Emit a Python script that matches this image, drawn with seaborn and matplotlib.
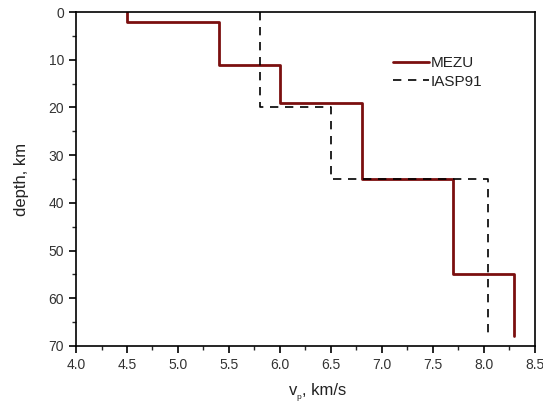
import matplotlib
matplotlib.use("Agg")
import matplotlib.pyplot as plt
from matplotlib.ticker import MultipleLocator
import seaborn as sns
import pandas as pd

# Layer models: top depth (km), bottom depth (km), Vp (km/s)
mezu_top = [0, 2, 11, 19, 35, 55]
mezu_bot = [2, 11, 19, 35, 55, 68]
mezu_vp = [4.5, 5.4, 6.0, 6.8, 7.7, 8.3]

iasp_top = [0, 20, 35]
iasp_bot = [20, 35, 68]
iasp_vp = [5.8, 6.5, 8.04]


def step_frame(tops, bots, vps, name):
    xs, ys = [], []
    for t, b, v in zip(tops, bots, vps):
        xs += [v, v]
        ys += [t, b]
    return pd.DataFrame({"vp": xs, "depth": ys, "model": name, "order": range(len(xs))})


sns.set_style("ticks")
plt.rcParams["font.family"] = ["Liberation Sans", "DejaVu Sans"]

fig = plt.figure(figsize=(5.43, 4.05), dpi=100)
ax = fig.add_axes([0.140, 0.146, 0.845, 0.824])

m = step_frame(mezu_top, mezu_bot, mezu_vp, "MEZU")
i = step_frame(iasp_top, iasp_bot, iasp_vp, "IASP91")

sns.lineplot(data=m, x="vp", y="depth", sort=False, estimator=None, ax=ax,
             color="#7b0f0f", lw=2.0, label="MEZU")
sns.lineplot(data=i, x="vp", y="depth", sort=False, estimator=None, ax=ax,
             color="black", lw=1.2, ls=(0, (5, 4)), label="IASP91")

ax.set_xlim(4.0, 8.5)
ax.set_ylim(70, 0)
ax.xaxis.set_major_locator(MultipleLocator(0.5))
ax.xaxis.set_minor_locator(MultipleLocator(0.25))
ax.yaxis.set_major_locator(MultipleLocator(10))
ax.yaxis.set_minor_locator(MultipleLocator(5))
ax.set_xticklabels([f"{v:.1f}" for v in ax.get_xticks()])

for s in ax.spines.values():
    s.set_linewidth(1.2)
    s.set_color("black")
ax.tick_params(which="major", direction="out", length=5, width=1.2, labelsize=10,
               colors="black", labelcolor="#333333")
ax.tick_params(which="minor", direction="out", length=3, width=1.0)

ax.set_xlabel("")
ax.set_ylabel("depth, km", fontsize=12, labelpad=14, color="#222222")
# x label with small subscript p
fig.text(0.532, 0.025, "v", fontsize=12, color="#222222", ha="left", va="baseline")
fig.text(0.5455, 0.016, "p", fontsize=6, color="#222222", ha="left", va="baseline")
fig.text(0.5565, 0.025, ", km/s", fontsize=12, color="#222222", ha="left", va="baseline")

ax.legend(loc="upper left", bbox_to_anchor=(0.66, 0.91), frameon=False, fontsize=11,
          handlelength=2.4, handletextpad=0.1, labelspacing=0.3, labelcolor="#222222")

fig.savefig("out.png", dpi=100)
